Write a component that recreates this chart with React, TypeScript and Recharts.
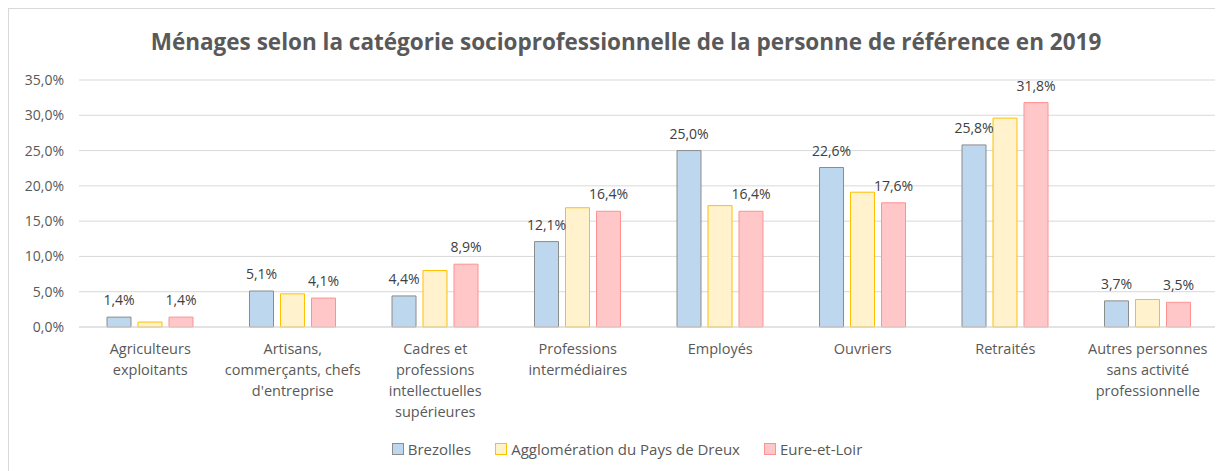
import React from 'react'
import { BarChart, Bar, XAxis, YAxis, CartesianGrid, Legend, LabelList } from 'recharts'

// categories (line breaks follow the original wrapping)
const categories = [
  'Agriculteurs\nexploitants',
  'Artisans,\ncommerçants, chefs\nd\'entreprise',
  'Cadres et\nprofessions\nintellectuelles\nsupérieures',
  'Professions\nintermédiaires',
  'Employés',
  'Ouvriers',
  'Retraités',
  'Autres personnes\nsans activité\nprofessionnelle',
]

const brezolles = [1.4, 5.1, 4.4, 12.1, 25.0, 22.6, 25.8, 3.7]
const agglo = [0.7, 4.7, 8.0, 16.9, 17.2, 19.1, 29.6, 3.9]
const eureEtLoir = [1.4, 4.1, 8.9, 16.4, 16.4, 17.6, 31.8, 3.5]

const yTicks = [0, 5, 10, 15, 20, 25, 30, 35]

const series = [
  { key: 'brezolles', name: 'Brezolles', fill: '#BDD7EE', stroke: '#8C8C8C', labels: true },
  { key: 'agglo', name: 'Agglomération du Pays de Dreux', fill: '#FFF2CC', stroke: '#FFC000', labels: false },
  { key: 'eure', name: 'Eure-et-Loir', fill: '#FFC7C7', stroke: '#FF9191', labels: true },
]

const data = categories.map((c, i) => ({
  cat: c,
  brezolles: brezolles[i],
  agglo: agglo[i],
  eure: eureEtLoir[i],
}))

const FONT = '"Open Sans", "Liberation Sans", sans-serif'
const TEXT = '#595959'

const pct = (v: number) => v.toFixed(1).replace('.', ',') + '%'

function CatTick({ x, y, payload }: any) {
  const lines = String(payload.value).split('\n')
  return (
    <g>
      {lines.map((l, i) => (
        <text key={i} x={x} y={y + 19 + i * 21} textAnchor="middle" fontSize={14.5} fill={TEXT} fontFamily={FONT}>
          {l}
        </text>
      ))}
    </g>
  )
}

function LegendContent() {
  return (
    <div style={{ display: 'flex', justifyContent: 'center', gap: 24, fontFamily: FONT, fontSize: 15, color: TEXT, paddingLeft: 26 }}>
      {series.map(s => (
        <div key={s.key} style={{ display: 'flex', alignItems: 'center', gap: 4 }}>
          <span style={{ width: 10, height: 10, background: s.fill, border: `1px solid ${s.stroke}`, display: 'inline-block' }} />
          <span>{s.name}</span>
        </div>
      ))}
    </div>
  )
}

export default function App() {
  return (
    <div style={{
      position: 'relative', width: 1215, height: 463, boxSizing: 'border-box',
      borderLeft: '1px solid #d9d9d9', borderTop: '1px solid #d9d9d9', overflow: 'hidden', background: '#fff',
    }}>
      <div style={{
        position: 'absolute', top: 17, left: 0, width: 1234, textAlign: 'center',
        fontFamily: FONT, fontWeight: 700, fontSize: 22.5, color: TEXT,
      }}>
        Ménages selon la catégorie socioprofessionnelle de la personne de référence en 2019
      </div>
      <BarChart
        width={1214}
        height={462}
        data={data}
        margin={{ top: 71, right: 4, bottom: 12, left: 0 }}
        barCategoryGap="20%"
        barGap={7}
      >
        <CartesianGrid vertical={false} stroke="#d9d9d9" />
        <XAxis dataKey="cat" tick={<CatTick />} tickLine={false} axisLine={{ stroke: '#d9d9d9' }} height={112} interval={0} />
        <YAxis
          domain={[0, 35]}
          ticks={yTicks}
          tickFormatter={pct}
          width={70}
          axisLine={false}
          tickLine={false}
          tickMargin={9}
          tick={{ fontSize: 14, fill: TEXT, fontFamily: FONT }}
        />
        <Legend verticalAlign="bottom" content={<LegendContent />} />
        {series.map(s => (
          <Bar key={s.key} dataKey={s.key} name={s.name} fill={s.fill} stroke={s.stroke} strokeWidth={1} barSize={24} isAnimationActive={false}>
            {s.labels && (
              <LabelList dataKey={s.key} position="top" offset={12} formatter={(v: any) => pct(Number(v))}
                style={{ fontSize: 14, fill: '#404040', fontFamily: FONT }} />
            )}
          </Bar>
        ))}
      </BarChart>
    </div>
  )
}
